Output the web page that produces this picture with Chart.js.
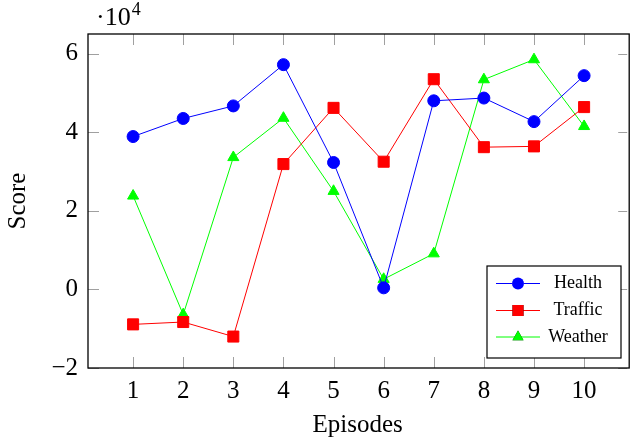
<!DOCTYPE html>
<html>
<head>
<meta charset="utf-8">
<script src="https://cdn.jsdelivr.net/npm/chart.js"></script>
<style>
  body { margin: 0; background: #fff; }
  canvas { display: block; }
</style>
</head>
<body>
<canvas id="scoreChart" width="636" height="445"></canvas>
<script>
// episodes and scores
const episodes = [1, 2, 3, 4, 5, 6, 7, 8, 9, 10];
const health = [38900, 43500, 46700, 57200, 32300, 400, 48000, 48700, 42700, 54400];
const traffic = [-8900, -8300, -12000, 31900, 46200, 32500, 53500, 36200, 36400, 46400];
const weather = [23800, -6400, 33600, 43600, 25000, 2600, 9100, 53400, 58500, 41500];
const yTicks = [-20000, 0, 20000, 40000, 60000];

const serif = "'Liberation Serif', 'DejaVu Serif', serif";

function toPoints(values) {
    return episodes.map((ep, i) => ({ x: ep, y: values[i] }));
}

// inward gray ticks on all four sides, black frame, the 10^4 multiplier and the legend
const framePlugin = {
    id: 'frame',
    afterDatasetsDraw(chart) {
        const ctx = chart.ctx;
        const a = chart.chartArea;
        const xs = chart.scales.x;
        const ys = chart.scales.y;
        ctx.save();
        ctx.strokeStyle = '#a0a0a0';
        ctx.lineWidth = 1;
        ctx.beginPath();
        episodes.forEach(v => {
            const px = Math.round(xs.getPixelForValue(v)) + 0.5;
            ctx.moveTo(px, a.bottom); ctx.lineTo(px, a.bottom - 11);
            ctx.moveTo(px, a.top); ctx.lineTo(px, a.top + 11);
        });
        yTicks.forEach(v => {
            const py = Math.round(ys.getPixelForValue(v)) + 0.5;
            ctx.moveTo(a.left, py); ctx.lineTo(a.left + 11, py);
            ctx.moveTo(a.right, py); ctx.lineTo(a.right - 9, py);
        });
        ctx.stroke();

        ctx.strokeStyle = '#000';
        ctx.lineWidth = 1.3;
        ctx.strokeRect(a.left, a.top, a.right - a.left + 2, a.bottom - a.top);

        // multiplier label
        ctx.fillStyle = '#000';
        ctx.textBaseline = 'alphabetic';
        ctx.textAlign = 'left';
        ctx.font = '26px ' + serif;
        ctx.fillText('\u00b710', 96, 25);
        const w = ctx.measureText('\u00b710').width;
        ctx.font = '18px ' + serif;
        ctx.fillText('4', 96 + w + 1, 15);

        // legend box
        const box = { x: 487, y: 266, w: 134, h: 92 };
        ctx.fillStyle = '#fff';
        ctx.fillRect(box.x, box.y, box.w, box.h);
        ctx.strokeStyle = '#000';
        ctx.lineWidth = 1.2;
        ctx.strokeRect(box.x, box.y, box.w, box.h);
        const rows = [283.5, 310.5, 337];
        chart.data.datasets.forEach((ds, i) => {
            const y = rows[i];
            ctx.strokeStyle = ds.borderColor;
            ctx.lineWidth = 1;
            ctx.beginPath();
            ctx.moveTo(496, y); ctx.lineTo(540, y);
            ctx.stroke();
            Chart.helpers.drawPoint(ctx, {
                pointStyle: ds.pointStyle,
                radius: ds.pointRadius,
                rotation: 0,
                borderWidth: 0
            }, 518, y);
            ctx.fillStyle = ds.backgroundColor;
            ctx.fill();
            ctx.fillStyle = '#000';
            ctx.font = '18px ' + serif;
            ctx.textAlign = 'center';
            ctx.textBaseline = 'middle';
            ctx.fillText(ds.label, 578, y);
        });
        ctx.restore();
    }
};

const ctx = document.getElementById('scoreChart').getContext('2d');
new Chart(ctx, {
    type: 'line',
    data: {
        datasets: [{
            label: 'Health',
            data: toPoints(health),
            borderColor: '#0000ff',
            backgroundColor: '#0000ff',
            pointStyle: 'circle',
            pointRadius: 6,
            borderWidth: 1
        }, {
            label: 'Traffic',
            data: toPoints(traffic),
            borderColor: '#ff0000',
            backgroundColor: '#ff0000',
            pointStyle: 'rect',
            pointRadius: 7.8,
            borderWidth: 1
        }, {
            label: 'Weather',
            data: toPoints(weather),
            borderColor: '#00ff00',
            backgroundColor: '#00ff00',
            pointStyle: 'triangle',
            pointRadius: 6.4,
            borderWidth: 1
        }]
    },
    options: {
        responsive: false,
        animation: false,
        layout: { padding: { top: 34, right: 0, left: 0, bottom: 0 } },
        elements: {
            line: { tension: 0 },
            point: { borderWidth: 0, hoverRadius: 6 }
        },
        scales: {
            x: {
                type: 'linear',
                min: 0.1,
                max: 10.86,
                afterBuildTicks: s => { s.ticks = episodes.map(v => ({ value: v })); },
                afterFit: s => { s.height = 77; },
                grid: { display: false, drawTicks: false },
                border: { display: false },
                ticks: {
                    padding: 8,
                    color: '#000',
                    font: { family: serif, size: 25 }
                },
                title: {
                    display: true,
                    text: 'Episodes',
                    color: '#000',
                    font: { family: serif, size: 25 },
                    padding: { top: 0, bottom: 5 }
                }
            },
            y: {
                min: -20000,
                max: 65000,
                afterBuildTicks: s => { s.ticks = yTicks.map(v => ({ value: v })); },
                afterFit: s => { s.width = 88; },
                grid: { display: false, drawTicks: false },
                border: { display: false },
                ticks: {
                    padding: 10,
                    color: '#000',
                    font: { family: serif, size: 25 },
                    callback: v => (v < 0 ? '\u2212' : '') + Math.abs(v / 10000)
                },
                title: {
                    display: true,
                    text: 'Score',
                    color: '#000',
                    font: { family: serif, size: 25 },
                    padding: { top: 3, bottom: 0 }
                }
            }
        },
        plugins: {
            legend: { display: false },
            tooltip: { enabled: false }
        }
    },
    plugins: [framePlugin]
});
</script>
</body>
</html>
